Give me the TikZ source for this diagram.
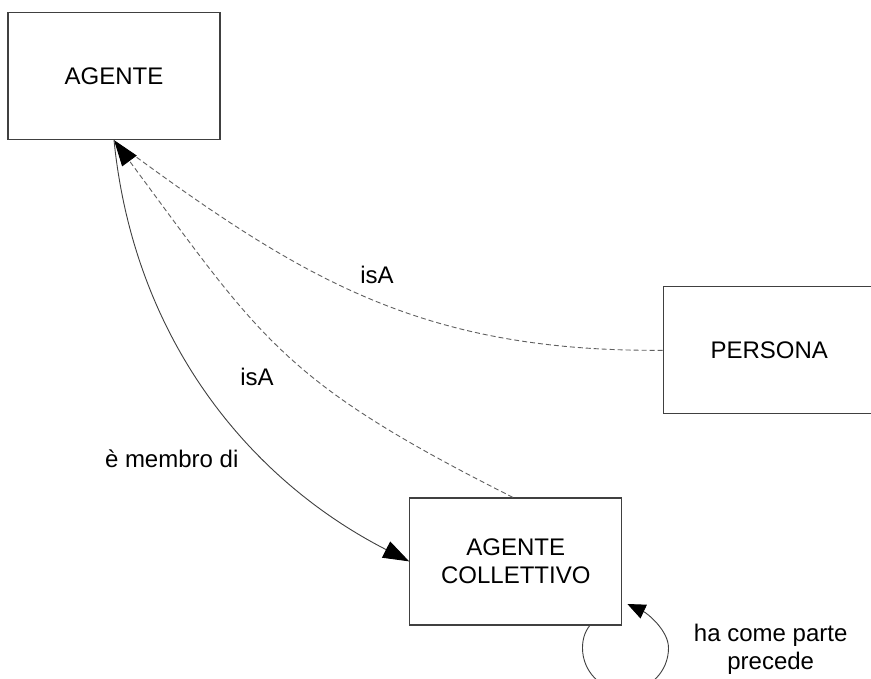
\documentclass[tikz,border=0pt]{standalone}
\usepackage{fontspec}
\setmainfont{Liberation Sans}
\usetikzlibrary{arrows.meta}
\definecolor{boxline}{HTML}{404040}
\definecolor{dashline}{HTML}{606060}
\tikzset{
  entity/.style={draw=boxline, line width=1.2pt, fill=white, minimum width=212pt, minimum height=127pt, inner sep=0pt, align=center, font=\fontsize{24}{28}\selectfont},
  lbl/.style={inner sep=0pt, anchor=base, font=\fontsize{24}{28}\selectfont},
  isa/.style={draw=dashline, line width=0.9pt, dash pattern=on 5pt off 3pt},
  rel/.style={draw=boxline, line width=0.9pt},
  head/.style={-{Triangle[length=26pt,width=18pt,color=black]}},
}
\begin{document}
\begin{tikzpicture}[x=1pt,y=-1pt]
\clip (0,0) rectangle (871,679);
\fill[white] (0,0) rectangle (871,679);
\node[entity] (agente) at (114,76) {AGENTE};
\node[entity] (persona) at (769.3,350.3) {PERSONA};
\node[entity] (coll) at (515.8,561.4) {AGENTE\\COLLETTIVO};
% isA from PERSONA
\draw[isa] (persona.west) .. controls (420,352) and (300,278) .. ([xshift=2pt,yshift=-2pt]agente.south);
% isA from AGENTE COLLETTIVO
\draw[isa, head] ([xshift=-3pt]coll.north) .. controls (281.6,381) and (262,340) .. (agente.south);
% e membro di
\draw[rel, head] (agente.south) .. controls (134,340) and (250,480) .. (coll.west);
% self loop
\draw[rel, -{Triangle[length=18pt,width=15pt,color=black]}] ([xshift=74pt]coll.south)
  .. controls (584.5,632) and (582.5,640) .. (582.5,648)
  .. controls (582.5,671.75) and (601.75,691) .. (625.5,691)
  .. controls (649.25,691) and (668.5,671.75) .. (668.5,648)
  .. controls (668.5,630) and (646.7,613) .. ([xshift=5pt,yshift=-42.6pt]coll.east);
\node[lbl] (l1) at (377,283.5) {isA};
\node[lbl] (l2) at (257,385) {isA};
\node[lbl] (l3) at (171.7,467.5) {è membro di};
\node[lbl] (l4) at (770.7,641.7) {ha come parte};
\node[lbl] (l5) at (770.7,669.7) {precede};
\end{tikzpicture}
\end{document}
